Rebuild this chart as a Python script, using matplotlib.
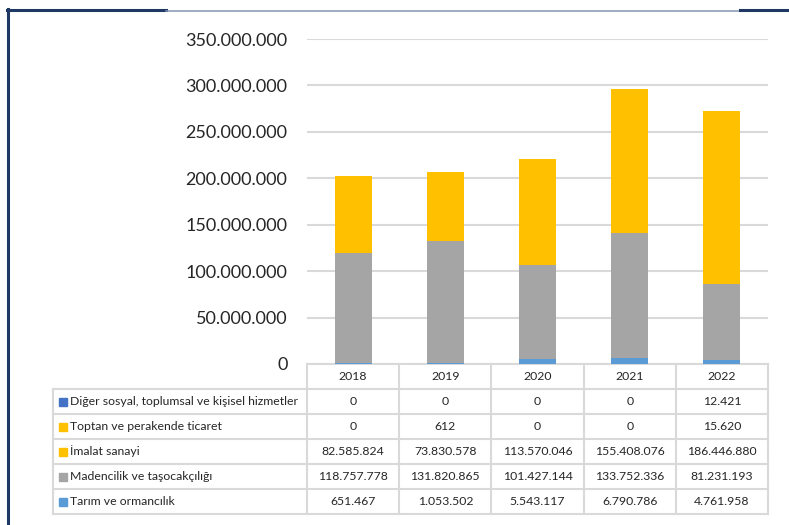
import matplotlib
matplotlib.use("Agg")
import matplotlib.pyplot as plt
from matplotlib.lines import Line2D
from matplotlib.patches import Rectangle
import matplotlib.transforms as mtransforms
import numpy as np

plt.rcParams['font.family'] = ['Lato', 'DejaVu Sans']

# veriler
yillar = ['2018', '2019', '2020', '2021', '2022']
tarim = [651467, 1053502, 5543117, 6790786, 4761958]
madencilik = [118757778, 131820865, 101427144, 133752336, 81231193]
imalat = [82585824, 73830578, 113570046, 155408076, 186446880]
toptan = [0, 612, 0, 0, 15620]
diger = [0, 0, 0, 0, 12421]

seriler = [
    ("Tarım ve ormancılık", tarim, "#5B9BD5"),
    ("Madencilik ve taşocakçılığı", madencilik, "#A5A5A5"),
    ("İmalat sanayi", imalat, "#FFC000"),
    ("Toptan ve perakende ticaret", toptan, "#FFC000"),
    ("Diğer sosyal, toplumsal ve kişisel hizmetler", diger, "#4472C4"),
]

def fmt(v):
    return f"{int(v):,}".replace(",", ".")

W, H = 789, 525
fig = plt.figure(figsize=(W / 100, H / 100), dpi=100)
ax = fig.add_axes([307 / W, 1 - 364 / H, 461 / W, 325 / H])

x = np.arange(len(yillar))
alt = np.zeros(len(yillar))
for ad, deger, renk in seriler:
    ax.bar(x, deger, 0.4, bottom=alt, color=renk, zorder=3)
    alt += np.array(deger)

ax.set_xlim(-0.5, 4.5)
ax.set_ylim(0, 350e6)
ax.set_yticks(np.arange(0, 350e6 + 1, 50e6))
ax.set_yticklabels([fmt(v) for v in np.arange(0, 350e6 + 1, 50e6)], fontsize=13, color="#262626")
ax.tick_params(axis='y', length=0, pad=14)
ax.set_xticks([])
ax.grid(axis='y', color="#d9d9d9", lw=1.5, zorder=0)
for s in ax.spines.values():
    s.set_visible(False)

# tablo
trans = mtransforms.blended_transform_factory(ax.transData, ax.transAxes)
satir_h = 25 / 325
tcol = "#d9d9d9"
sol = (53 - 307) / 461
satirlar = list(reversed(seriler))
n = len(satirlar)
fs = 8.8

# yatay cizgiler
ax.add_line(Line2D([-0.5, 4.5], [0, 0], transform=trans, color=tcol, lw=1.5, clip_on=False))
for k in range(1, n + 2):
    ax.add_line(Line2D([sol, 1], [-k * satir_h, -k * satir_h], transform=ax.transAxes,
                       color=tcol, lw=1.5, clip_on=False))
# dikey cizgiler
for b in np.arange(-0.5, 5, 1):
    ax.add_line(Line2D([b, b], [0, -(n + 1) * satir_h], transform=trans, color=tcol, lw=1.5, clip_on=False))
ax.add_line(Line2D([sol, sol], [-satir_h, -(n + 1) * satir_h], transform=ax.transAxes,
                   color=tcol, lw=1.5, clip_on=False))

for i, y in enumerate(yillar):
    ax.text(i, -0.5 * satir_h, y, transform=trans, ha='center', va='center', fontsize=fs, color="#262626")

for r, (ad, deger, renk) in enumerate(satirlar):
    yc = -(r + 1.5) * satir_h
    ax.add_patch(Rectangle((sol + 6 / 461, yc - 4 / 325), 8 / 461, 8 / 325, transform=ax.transAxes,
                           color=renk, clip_on=False))
    ax.text(sol + 17 / 461, yc, ad, transform=ax.transAxes, ha='left', va='center', fontsize=fs, color="#262626")
    for i, v in enumerate(deger):
        ax.text(i, yc, fmt(v), transform=trans, ha='center', va='center', fontsize=fs, color="#262626")

# cerceve
navy = "#1F3864"
fig.add_artist(Line2D([8 / W, 8 / W], [0, 1 - 9 / H], transform=fig.transFigure, color=navy, lw=2.2))
fig.add_artist(Line2D([7 / W, 166 / W], [1 - 9.7 / H, 1 - 9.7 / H], transform=fig.transFigure, color=navy, lw=2.2))
fig.add_artist(Line2D([166 / W, 740 / W], [1 - 11 / H, 1 - 11 / H], transform=fig.transFigure, color="#8595b0", lw=1.1))
fig.add_artist(Line2D([740 / W, 1], [1 - 9.7 / H, 1 - 9.7 / H], transform=fig.transFigure, color=navy, lw=2.2))

fig.savefig("out.png", dpi=100)
